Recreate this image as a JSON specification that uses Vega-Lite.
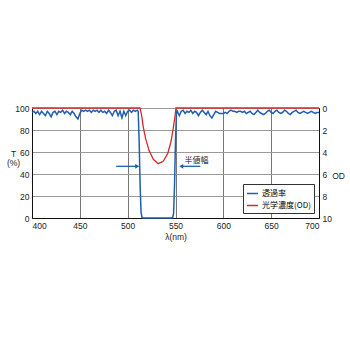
{
  "$schema": "https://vega.github.io/schema/vega-lite/v6.json",
  "autosize": {"type": "none"},
  "width": 287,
  "height": 110,
  "padding": {"left": 32, "top": 108, "right": 31, "bottom": 132},
  "background": "white",
  "config": {
    "view": {"stroke": "#111", "strokeWidth": 1},
    "font": "Liberation Sans",
    "axis": {"labelFontSize": 8.5, "labelColor": "#222", "titleColor": "#222", "titleFontWeight": "normal", "titleFontSize": 8.5, "ticks": false, "labelPadding": 3, "domainColor": "#111", "labelOverlap": false, "labelBound": false}
  },
  "datasets": {
    "trans": [
      {"wl": 400, "T": 96}, {"wl": 402, "T": 97}, {"wl": 404, "T": 95}, {"wl": 406, "T": 97}, {"wl": 408, "T": 94},
      {"wl": 410, "T": 97}, {"wl": 412, "T": 95}, {"wl": 414, "T": 93}, {"wl": 416, "T": 97}, {"wl": 418, "T": 95},
      {"wl": 420, "T": 92}, {"wl": 422, "T": 96}, {"wl": 424, "T": 97}, {"wl": 426, "T": 94}, {"wl": 428, "T": 97},
      {"wl": 430, "T": 96}, {"wl": 432, "T": 98}, {"wl": 434, "T": 95}, {"wl": 436, "T": 97}, {"wl": 438, "T": 96},
      {"wl": 440, "T": 94}, {"wl": 442, "T": 97}, {"wl": 444, "T": 95}, {"wl": 446, "T": 92}, {"wl": 448, "T": 90},
      {"wl": 450, "T": 95}, {"wl": 452, "T": 98}, {"wl": 454, "T": 97}, {"wl": 456, "T": 98}, {"wl": 458, "T": 97},
      {"wl": 460, "T": 98}, {"wl": 462, "T": 96}, {"wl": 464, "T": 98}, {"wl": 466, "T": 97}, {"wl": 468, "T": 98},
      {"wl": 470, "T": 96}, {"wl": 472, "T": 98}, {"wl": 474, "T": 96}, {"wl": 476, "T": 97}, {"wl": 478, "T": 95},
      {"wl": 480, "T": 98}, {"wl": 482, "T": 96}, {"wl": 484, "T": 93}, {"wl": 486, "T": 97}, {"wl": 488, "T": 98},
      {"wl": 490, "T": 93}, {"wl": 492, "T": 97}, {"wl": 494, "T": 91}, {"wl": 496, "T": 97}, {"wl": 498, "T": 93},
      {"wl": 500, "T": 97}, {"wl": 502, "T": 98}, {"wl": 504, "T": 96}, {"wl": 506, "T": 98}, {"wl": 508, "T": 97},
      {"wl": 510, "T": 98}, {"wl": 511, "T": 97}, {"wl": 512, "T": 70}, {"wl": 513, "T": 30}, {"wl": 514, "T": 5},
      {"wl": 515, "T": 0.5}, {"wl": 516, "T": 0}, {"wl": 546, "T": 0}, {"wl": 547, "T": 0.5}, {"wl": 548, "T": 4},
      {"wl": 549, "T": 30}, {"wl": 550, "T": 70}, {"wl": 551, "T": 95}, {"wl": 552, "T": 97}, {"wl": 554, "T": 93},
      {"wl": 556, "T": 97}, {"wl": 558, "T": 98}, {"wl": 560, "T": 95}, {"wl": 562, "T": 97}, {"wl": 564, "T": 96},
      {"wl": 566, "T": 98}, {"wl": 568, "T": 95}, {"wl": 570, "T": 97}, {"wl": 572, "T": 96}, {"wl": 574, "T": 93},
      {"wl": 576, "T": 96}, {"wl": 578, "T": 98}, {"wl": 580, "T": 96}, {"wl": 582, "T": 94}, {"wl": 584, "T": 97},
      {"wl": 586, "T": 93}, {"wl": 588, "T": 91}, {"wl": 590, "T": 94}, {"wl": 592, "T": 97}, {"wl": 594, "T": 96},
      {"wl": 596, "T": 95}, {"wl": 598, "T": 95}, {"wl": 600, "T": 95}, {"wl": 602, "T": 96}, {"wl": 604, "T": 95},
      {"wl": 606, "T": 97}, {"wl": 608, "T": 98}, {"wl": 610, "T": 97}, {"wl": 612, "T": 97}, {"wl": 614, "T": 96},
      {"wl": 616, "T": 97}, {"wl": 618, "T": 97}, {"wl": 620, "T": 96}, {"wl": 622, "T": 97}, {"wl": 624, "T": 95},
      {"wl": 626, "T": 96}, {"wl": 628, "T": 97}, {"wl": 630, "T": 95}, {"wl": 632, "T": 94}, {"wl": 634, "T": 96},
      {"wl": 636, "T": 98}, {"wl": 638, "T": 96}, {"wl": 640, "T": 95}, {"wl": 642, "T": 94}, {"wl": 644, "T": 95},
      {"wl": 646, "T": 97}, {"wl": 648, "T": 98}, {"wl": 650, "T": 96}, {"wl": 652, "T": 95}, {"wl": 654, "T": 97},
      {"wl": 656, "T": 98}, {"wl": 658, "T": 96}, {"wl": 660, "T": 95}, {"wl": 662, "T": 96}, {"wl": 664, "T": 98},
      {"wl": 666, "T": 97}, {"wl": 668, "T": 95}, {"wl": 670, "T": 94}, {"wl": 672, "T": 96}, {"wl": 674, "T": 97},
      {"wl": 676, "T": 98}, {"wl": 678, "T": 96}, {"wl": 680, "T": 95}, {"wl": 682, "T": 96}, {"wl": 684, "T": 97},
      {"wl": 686, "T": 96}, {"wl": 688, "T": 95}, {"wl": 690, "T": 96}, {"wl": 692, "T": 97}, {"wl": 694, "T": 96},
      {"wl": 696, "T": 95}, {"wl": 698, "T": 96}, {"wl": 700, "T": 96}
    ],
    "od": [
      {"wl": 400, "OD": 0}, {"wl": 512.9, "OD": 0}, {"wl": 514.6, "OD": 0.66}, {"wl": 516.3, "OD": 1.73},
      {"wl": 518.8, "OD": 2.79}, {"wl": 522.3, "OD": 3.85}, {"wl": 526.8, "OD": 4.66}, {"wl": 532, "OD": 5.06},
      {"wl": 537.2, "OD": 4.85}, {"wl": 541.8, "OD": 4.15}, {"wl": 545.2, "OD": 3.09}, {"wl": 547.6, "OD": 1.88},
      {"wl": 549.4, "OD": 0.82}, {"wl": 550.5, "OD": 0}, {"wl": 700, "OD": 0}
    ],
    "arrows": [
      {"x1": 488, "x2": 510, "y": 47, "tip": 510, "shape": "triangle-right"},
      {"x1": 576, "x2": 556, "y": 47, "tip": 556, "shape": "triangle-left"}
    ],
    "labels": [{"wl": 572, "y": 52, "text": "半値幅"}]
  },
  "encoding": {
    "x": {"field": "wl", "type": "quantitative", "scale": {"domain": [400, 700], "nice": false}, "axis": {"values": [400, 450, 500, 550, 600, 650, 700], "labelOverlap": false, "gridColor": "#777", "gridOpacity": 1, "title": "λ(nm)", "titlePadding": 3}}
  },
  "layer": [
    {
      "data": {"name": "trans"},
      "mark": {"type": "line", "strokeWidth": 1.5},
      "encoding": {
        "y": {"field": "T", "type": "quantitative", "scale": {"domain": [0, 100], "nice": false}, "axis": {"values": [0, 20, 40, 60, 80, 100], "labelOverlap": false, "gridColor": "#999", "gridOpacity": 1, "title": ["T", "(%)"], "titleAngle": 0, "titleAlign": "center", "titleBaseline": "middle", "titleX": -19, "titleY": 45, "titleLineHeight": 9}},
        "color": {"datum": "透過率", "type": "nominal", "scale": {"domain": ["透過率", "光学濃度(OD)"], "range": ["#1f5fae", "#d42a2a"]},
          "legend": {"title": null, "orient": "none", "legendX": 211, "legendY": 76, "symbolType": "stroke", "symbolStrokeWidth": 1.5, "symbolSize": 120, "labelFontSize": 8, "labelFont": "Noto Sans CJK JP", "strokeColor": "#333", "fillColor": "white", "padding": 3, "rowPadding": 1, "labelOffset": 3}}
      }
    },
    {
      "data": {"name": "od"},
      "mark": {"type": "line", "strokeWidth": 1.3},
      "encoding": {
        "y": {"field": "OD", "type": "quantitative", "scale": {"domain": [0, 10], "reverse": true, "nice": false}, "axis": {"orient": "right", "values": [0, 2, 4, 6, 8, 10], "labelOverlap": false, "grid": false, "title": "OD", "titleAngle": 0, "titleAlign": "center", "titleBaseline": "middle", "titleX": 19, "titleY": 67}},
        "color": {"datum": "光学濃度(OD)", "type": "nominal"}
      }
    },
    {
      "data": {"name": "arrows"},
      "mark": {"type": "rule", "color": "#1f5fae", "strokeWidth": 1.3},
      "encoding": {"x": {"field": "x1", "type": "quantitative"}, "x2": {"field": "x2"}, "y": {"field": "y", "type": "quantitative", "scale": {"domain": [0, 100]}, "axis": null}}
    },
    {
      "data": {"name": "arrows"},
      "mark": {"type": "point", "filled": true, "color": "#1f5fae", "size": 22, "opacity": 1},
      "encoding": {"x": {"field": "tip", "type": "quantitative"}, "y": {"field": "y", "type": "quantitative", "scale": {"domain": [0, 100]}, "axis": null}, "shape": {"field": "shape", "type": "nominal", "scale": null}}
    },
    {
      "data": {"name": "labels"},
      "mark": {"type": "text", "font": "Noto Sans CJK JP", "fontSize": 8, "color": "#222"},
      "encoding": {"x": {"field": "wl", "type": "quantitative"}, "y": {"field": "y", "type": "quantitative", "scale": {"domain": [0, 100]}, "axis": null}, "text": {"field": "text"}}
    }
  ],
  "resolve": {"scale": {"y": "independent"}}
}
